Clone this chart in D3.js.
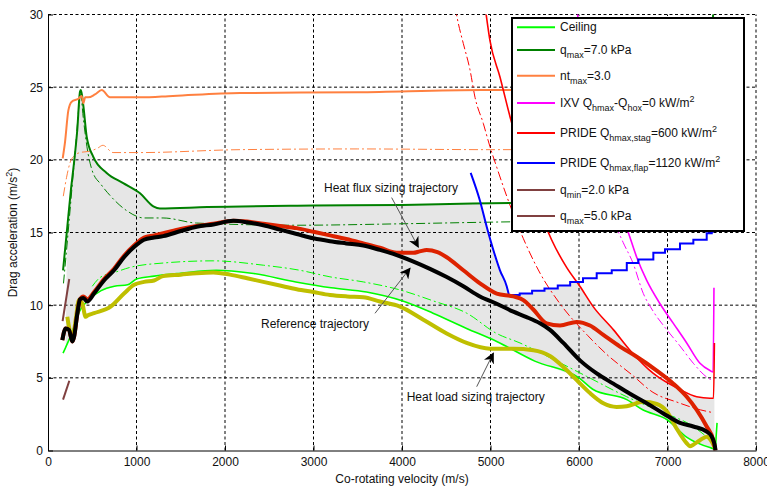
<!DOCTYPE html>
<html>
<head>
<meta charset="utf-8">
<script src="https://cdn.jsdelivr.net/npm/d3@7"></script>
<style>
  body { margin: 0; background: #fff; }
  svg text { font-family: "Liberation Sans", Arial, sans-serif; fill: #111; }
</style>
</head>
<body>
<svg id="chart"></svg>
<script>
// ---- axis ticks ----
const xTicks = [0, 1000, 2000, 3000, 4000, 5000, 6000, 7000, 8000];
const yTicks = [0, 5, 10, 15, 20, 25, 30];

// ---- limit curves (velocity m/s, drag accel m/s^2) ----
const ceilingV = [170, 200, 250, 300, 350, 450, 600, 750, 900, 1000, 1200, 1500, 1900, 2300, 2800, 3200, 3600, 4000, 4350, 4730, 5070, 5500, 6000, 6160, 6540, 6720, 7000, 7220, 7480, 7540, 7550, 7560];
const ceilingA = [6.7, 7.1, 7.8, 8.6, 9.5, 10.3, 11.0, 11.3, 11.4, 11.8, 12.0, 12.2, 12.4, 12.2, 11.6, 11.2, 10.9, 10.3, 9.45, 8.4, 7.5, 6.15, 5.0, 4.2, 3.5, 2.8, 2.1, 0.9, 0.2, 0.1, 1.0, 1.9];

const ceilingDashV = [500, 588, 776, 927, 1303, 1868, 2433, 2847, 3186, 3563, 3977, 4350, 4731, 5070, 5333, 5700, 6087, 6539, 6915, 7292, 7490];
const ceilingDashA = [11.3, 11.9, 12.3, 12.6, 12.9, 13.05, 12.75, 12.4, 11.95, 11.6, 11.05, 10.3, 9.45, 8.05, 7.4, 6.3, 5.1, 3.7, 2.7, 1.65, 0.7];

const qmax7V = [170, 215, 260, 294, 330, 362, 372, 400, 437, 512, 663, 850, 1040, 1190, 1265, 1800, 3000, 4000, 4800, 5500, 6500, 7510, 7515];
const qmax7A = [12.4, 15.2, 18.0, 19.8, 22.0, 24.7, 24.8, 23.7, 21.6, 20.2, 19.1, 18.4, 17.7, 16.8, 16.65, 16.75, 16.85, 16.9, 17.0, 17.05, 17.1, 17.2, 31];

const qmax7DashV = [175, 220, 270, 320, 355, 368, 400, 440, 497, 600, 708, 890, 1085, 1300, 1680, 2800, 4000, 4880, 6000, 7500];
const qmax7DashA = [11.5, 14.5, 18.0, 21.5, 24.0, 24.5, 22.8, 20.9, 19.3, 18.3, 17.5, 16.5, 16.0, 16.0, 15.65, 15.5, 15.6, 15.7, 15.8, 15.9];

const ntV = [166, 192, 230, 268, 343, 380, 400, 420, 455, 531, 607, 700, 1040, 1412, 2170, 3500, 4900, 6000, 7500];
const ntA = [20.1, 21.2, 23.4, 24.0, 24.2, 24.4, 23.9, 24.3, 24.3, 24.5, 24.8, 24.3, 24.3, 24.4, 24.6, 24.65, 24.8, 24.8, 24.85];

const ntDashV = [173, 210, 249, 300, 362, 475, 560, 620, 735, 1040, 2170, 3500, 5000, 7500];
const ntDashA = [17.5, 18.8, 19.8, 20.3, 20.5, 20.6, 20.8, 21.0, 20.5, 20.5, 20.7, 20.75, 20.7, 20.8];

const ixvV = [5974, 6100, 6300, 6557, 6652, 6765, 6915, 7066, 7217, 7367, 7480, 7515, 7525];
const ixvA = [30.5, 24.5, 19.0, 15.0, 13.3, 11.7, 10.1, 8.75, 7.4, 6.0, 5.5, 5.4, 11.2];

const ixvDashV = [6200, 6350, 6500, 6610, 6727, 6836, 6980, 7140, 7292, 7455, 7500, 7520];
const ixvDashA = [20.0, 16.5, 14.3, 12.9, 10.8, 9.6, 8.4, 7.2, 6.0, 5.0, 4.85, 4.8];

const stagV = [4940, 4994, 5107, 5232, 5450, 5690, 5860, 6010, 6160, 6390, 6576, 6840, 7141, 7330, 7480, 7520, 7530];
const stagA = [30.5, 28.2, 25.7, 22.7, 18.3, 14.5, 12.6, 11.3, 9.9, 8.3, 6.9, 5.3, 4.2, 3.7, 3.6, 3.6, 7.4];

const stagDashV = [4600, 4636, 4693, 4768, 4825, 4919, 4994, 5070, 5183, 5370, 5560, 5785, 6100, 6316, 6600, 6836, 7120, 7370, 7520];
const stagDashA = [30.5, 29.4, 28.0, 26.2, 24.3, 22.5, 20.9, 19.5, 17.5, 14.6, 12.2, 10.1, 7.9, 6.6, 5.2, 4.0, 3.3, 2.8, 2.6];

const flapV = [4776, 4880, 4957, 5032, 5107, 5183, 5212];
const flapA = [19.1, 17.2, 15.4, 13.8, 12.4, 11.3, 10.6];
const flapStepV = [5212, 5330, 5470, 5610, 5760, 5900, 6045, 6200, 6370, 6540, 6670, 6840, 6972, 7141, 7292, 7443, 7500, 7510];
const flapStepA = [10.7, 10.8, 11.0, 11.15, 11.35, 11.6, 11.85, 12.2, 12.4, 12.9, 13.15, 13.6, 13.85, 14.25, 14.5, 14.95, 15.05, 16.0];

const qmin2V = [170, 241];
const qmin2A = [3.5, 4.8];
const qmax5V = [165, 240];
const qmax5A = [8.9, 11.8];

// ---- trajectories ----
const refV = [162, 200, 237, 275, 294, 331, 362, 399, 444, 520, 633, 746, 859, 972, 1085, 1198, 1303, 1500, 1680, 1870, 2094, 2250, 2433, 2620, 2810, 3000, 3186, 3370, 3563, 3750, 3940, 4130, 4316, 4500, 4693, 4881, 5070, 5258, 5400, 5559, 5672, 5823, 6011, 6200, 6388, 6576, 6765, 6953, 7141, 7292, 7443, 7500, 7518, 7537, 7542];
const refA = [7.6, 8.4, 8.3, 7.5, 7.8, 9.4, 10.4, 10.5, 10.25, 10.8, 11.7, 12.4, 13.3, 14.0, 14.5, 14.65, 14.75, 15.1, 15.4, 15.55, 15.8, 15.7, 15.5, 15.2, 14.9, 14.6, 14.4, 14.25, 14.1, 13.8, 13.45, 13.0, 12.5, 11.95, 11.3, 10.6, 10.1, 9.55, 9.2, 8.75, 8.3, 7.4, 6.2, 5.3, 4.6, 3.9, 3.25, 2.55, 1.9, 1.65, 1.3, 0.95, 0.7, 0.25, 0];

const fluxV = [162, 200, 237, 275, 294, 331, 362, 399, 444, 520, 633, 746, 859, 972, 1085, 1198, 1303, 1500, 1680, 1870, 2094, 2250, 2433, 2620, 2810, 3000, 3186, 3370, 3563, 3750, 3940, 4128, 4200, 4279, 4400, 4505, 4693, 4881, 5070, 5258, 5371, 5484, 5634, 5785, 5974, 6124, 6275, 6463, 6652, 6878, 7066, 7217, 7330, 7443, 7518, 7542];
const fluxA = [7.6, 8.4, 8.3, 7.5, 7.8, 9.4, 10.4, 10.6, 10.4, 10.9, 11.8, 12.5, 13.4, 14.1, 14.65, 14.8, 14.95, 15.25, 15.45, 15.6, 15.8, 15.75, 15.6, 15.45, 15.3, 15.05, 14.8, 14.55, 14.25, 13.95, 13.6, 13.6, 13.7, 13.8, 13.65, 13.3, 12.4, 11.5, 10.8, 10.6, 10.35, 9.7, 8.75, 8.6, 8.85, 8.6, 7.95, 7.15, 6.45, 5.5, 4.6, 3.7, 2.8, 1.65, 0.7, 0];

const loadV = [218, 237, 275, 313, 350, 388, 425, 450, 520, 708, 859, 972, 1085, 1198, 1303, 1500, 1680, 1868, 2056, 2250, 2433, 2620, 2810, 3000, 3186, 3380, 3563, 3751, 3977, 4241, 4505, 4731, 4994, 5258, 5484, 5672, 5823, 5974, 6124, 6275, 6426, 6539, 6727, 6878, 6991, 7104, 7217, 7254, 7292, 7367, 7443, 7500, 7537];
const loadA = [9.2, 8.5, 7.7, 9.0, 10.35, 10.1, 9.2, 9.3, 9.45, 9.9, 10.8, 11.4, 11.6, 11.7, 12.0, 12.1, 12.2, 12.25, 12.1, 11.85, 11.6, 11.35, 11.1, 10.9, 10.7, 10.6, 10.55, 10.25, 9.9, 9.0, 8.05, 7.4, 7.0, 7.0, 6.9, 6.5, 5.75, 4.85, 3.95, 3.25, 3.0, 3.05, 3.35, 3.2, 2.7, 1.5, 0.5, 0.3, 0.4, 0.7, 0.95, 0.6, 0.15];

// ---- legend labels (segments: plain / sub / sup) ----
const legendLabels = [
  [['Ceiling']],
  [['q'], ['max', 'sub'], ['=7.0 kPa']],
  [['nt'], ['max', 'sub'], ['=3.0']],
  [['IXV Q'], ['hmax', 'sub'], ['-Q'], ['hox', 'sub'], ['=0 kW/m'], ['2', 'sup']],
  [['PRIDE Q'], ['hmax,stag', 'sub'], ['=600 kW/m'], ['2', 'sup']],
  [['PRIDE Q'], ['hmax,flap', 'sub'], ['=1120 kW/m'], ['2', 'sup']],
  [['q'], ['min', 'sub'], ['=2.0 kPa']],
  [['q'], ['max', 'sub'], ['=5.0 kPa']]
];
const legendColors = ['#00ff00', '#008000', '#ff8040', '#ff00ff', '#ff0000', '#0000ff', '#804040', '#804040'];

const annotations = [
  { text: 'Heat flux sizing trajectory', v: 3876, a: 17.81, from: [3883, 17.4], to: [4184, 14.0] },
  { text: 'Reference trajectory', v: 3017, a: 8.43, from: [3695, 9.44], to: [4090, 12.54] },
  { text: 'Heat load sizing trajectory', v: 4833, a: 3.41, from: [4844, 4.39], to: [5032, 6.69] }
];

const pts = (vs, as) => vs.map((v, i) => [v, as[i]]);

const width = 767, height = 490;
const plot = { left: 48, right: 756, top: 14.5, bottom: 450.5 };

const svg = d3.select('#chart')
  .attr('width', width)
  .attr('height', height);

const x = d3.scaleLinear().domain([0, 8000]).range([plot.left, plot.right]);
const y = d3.scaleLinear().domain([0, 30]).range([plot.bottom, plot.top]);

const defs = svg.append('defs');
defs.append('clipPath').attr('id', 'plotClip')
  .append('rect')
  .attr('x', plot.left).attr('y', plot.top)
  .attr('width', plot.right - plot.left).attr('height', plot.bottom - plot.top);

// region below the flap heat-flux limit
const stepped = [];
flapStepV.forEach((v, i) => {
  stepped.push([v, flapStepA[i]]);
  if (i < flapStepV.length - 1) stepped.push([flapStepV[i + 1], flapStepA[i]]);
});
const blueRegion = [[-500, 40], [flapV[0], 40]]
  .concat(pts(flapV, flapA), stepped, [[9000, flapStepA[flapStepA.length - 1]], [9000, -5], [-500, -5]]);
const stagRegion = [[-500, 40], [stagV[0], 40]]
  .concat(pts(stagV, stagA), [[stagV[stagV.length - 1], -5], [-500, -5]]);

const poly = d3.line().x(d => x(d[0])).y(d => y(d[1]));
defs.append('clipPath').attr('id', 'blueClip').append('path').attr('d', poly(blueRegion) + 'Z');
defs.append('clipPath').attr('id', 'stagClip').append('path').attr('d', poly(stagRegion) + 'Z');

defs.append('marker')
  .attr('id', 'arrowHead')
  .attr('viewBox', '0 0 10 10')
  .attr('refX', 9).attr('refY', 5)
  .attr('markerWidth', 11).attr('markerHeight', 11)
  .attr('markerUnits', 'userSpaceOnUse')
  .attr('orient', 'auto')
  .append('path')
  .attr('d', 'M0,0 L10,5 L0,10 L3,5 Z')
  .attr('fill', '#000');

// corridor fill
const corridor = pts(qmax7V, qmax7A).filter(d => d[0] >= 200)
  .concat(pts(ceilingV, ceilingA).filter(d => d[0] >= 200).reverse());
svg.append('g').attr('clip-path', 'url(#plotClip)')
  .append('g').attr('clip-path', 'url(#blueClip)')
  .append('g').attr('clip-path', 'url(#stagClip)')
  .append('path')
  .attr('d', poly(corridor) + 'Z')
  .attr('fill', '#e6e6e6');

// grid
const grid = svg.append('g').attr('class', 'grid')
  .attr('stroke', '#000').attr('stroke-width', 1).attr('stroke-dasharray', '3,2.5');
grid.selectAll('.gx').data(xTicks.slice(1)).join('line')
  .attr('x1', d => x(d)).attr('x2', d => x(d))
  .attr('y1', y(0)).attr('y2', y(30));
grid.selectAll('.gy').data(yTicks.slice(1)).join('line')
  .attr('x1', x(0)).attr('x2', x(8000))
  .attr('y1', d => y(d)).attr('y2', d => y(d));

// curves
const line = d3.line().x(d => x(d[0])).y(d => y(d[1])).curve(d3.curveMonotoneX);
const dashDot = '9,3,2,3';
const series = [
  { d: pts(ceilingDashV, ceilingDashA), c: '#00ff00', w: 1, dash: dashDot },
  { d: pts(qmax7DashV, qmax7DashA), c: '#008000', w: 1, dash: dashDot },
  { d: pts(ntDashV, ntDashA), c: '#ff8040', w: 1, dash: dashDot },
  { d: pts(ixvDashV, ixvDashA), c: '#ff00ff', w: 1, dash: dashDot },
  { d: pts(stagDashV, stagDashA), c: '#ff0000', w: 1, dash: dashDot },
  { d: pts(ceilingV, ceilingA), c: '#00ff00', w: 1.6 },
  { d: pts(qmax7V, qmax7A), c: '#008000', w: 2 },
  { d: pts(ntV, ntA), c: '#ff8040', w: 2 },
  { d: pts(ixvV, ixvA), c: '#ff00ff', w: 1.6 },
  { d: pts(stagV, stagA), c: '#ff0000', w: 1.6 },
  { d: pts(flapV, flapA), c: '#0000ff', w: 2 },
  { d: pts(qmin2V, qmin2A), c: '#804040', w: 2 },
  { d: pts(qmax5V, qmax5A), c: '#804040', w: 2 },
  { d: pts(loadV, loadA), c: '#bfbf00', w: 4 },
  { d: pts(fluxV, fluxA), c: '#dd2200', w: 4 },
  { d: pts(refV, refA), c: '#000000', w: 4 }
];

const curves = svg.append('g').attr('clip-path', 'url(#plotClip)');
curves.selectAll('path.series').data(series).join('path')
  .attr('class', 'series')
  .attr('d', s => line(s.d))
  .attr('fill', 'none')
  .attr('stroke', s => s.c)
  .attr('stroke-width', s => s.w)
  .attr('stroke-dasharray', s => s.dash || null)
  .attr('stroke-linejoin', 'round');

const stepLine = d3.line().x(d => x(d[0])).y(d => y(d[1])).curve(d3.curveStepAfter);
curves.insert('path', 'path.series:nth-child(14)')
  .attr('d', stepLine(pts(flapStepV, flapStepA)))
  .attr('fill', 'none').attr('stroke', '#0000ff').attr('stroke-width', 2);

// axes
const xAxis = d3.axisBottom(x).tickValues(xTicks).tickFormat(d3.format('d'))
  .tickSizeInner(-5).tickSizeOuter(0).tickPadding(7);
const yAxis = d3.axisLeft(y).tickValues(yTicks)
  .tickSizeInner(-5).tickSizeOuter(0).tickPadding(5);

const xAxisG = svg.append('g').attr('transform', `translate(0,${plot.bottom})`).call(xAxis);
const yAxisG = svg.append('g').attr('transform', `translate(${plot.left},0)`).call(yAxis);
[xAxisG, yAxisG].forEach(g => {
  g.selectAll('path, line').attr('stroke', '#000');
  g.selectAll('text').style('font-size', '12px').attr('fill', '#111');
});

svg.append('text')
  .attr('x', (plot.left + plot.right) / 2).attr('y', 483)
  .attr('text-anchor', 'middle')
  .style('font-size', '12px')
  .text('Co-rotating velocity (m/s)');

const yLab = svg.append('text')
  .attr('transform', `translate(17,${(plot.top + plot.bottom) / 2}) rotate(-90)`)
  .attr('text-anchor', 'middle')
  .style('font-size', '12px');
yLab.append('tspan').text('Drag acceleration (m/s');
yLab.append('tspan').attr('dy', -5).style('font-size', '9px').text('2');
yLab.append('tspan').attr('dy', 5).text(')');

// annotations
annotations.forEach(an => {
  svg.append('line')
    .attr('x1', x(an.from[0])).attr('y1', y(an.from[1]))
    .attr('x2', x(an.to[0])).attr('y2', y(an.to[1]))
    .attr('stroke', '#555').attr('stroke-width', 1)
    .attr('marker-end', 'url(#arrowHead)');
  svg.append('text')
    .attr('x', x(an.v)).attr('y', y(an.a))
    .attr('text-anchor', 'middle')
    .style('font-size', '12px')
    .attr('fill', '#222')
    .text(an.text);
});

// legend
const legendRows = [27.3, 50, 75.7, 103, 133, 163, 190, 216];
const legend = svg.append('g');
legend.append('rect')
  .attr('x', 512).attr('y', 18).attr('width', 232).attr('height', 213)
  .attr('fill', '#fff').attr('stroke', '#000').attr('stroke-width', 2);

legendLabels.forEach((segs, i) => {
  const yy = legendRows[i];
  legend.append('line')
    .attr('x1', 517).attr('x2', 555).attr('y1', yy).attr('y2', yy)
    .attr('stroke', legendColors[i]).attr('stroke-width', 2);
  const t = legend.append('text')
    .attr('x', 560).attr('y', yy + 4)
    .style('font-size', '12px');
  let shift = 0;
  segs.forEach(([str, kind]) => {
    const target = kind === 'sub' ? 4 : kind === 'sup' ? -5 : 0;
    const ts = t.append('tspan').attr('dy', target - shift).text(str);
    if (kind) ts.style('font-size', '9px');
    shift = target;
  });
});
</script>
</body>
</html>
